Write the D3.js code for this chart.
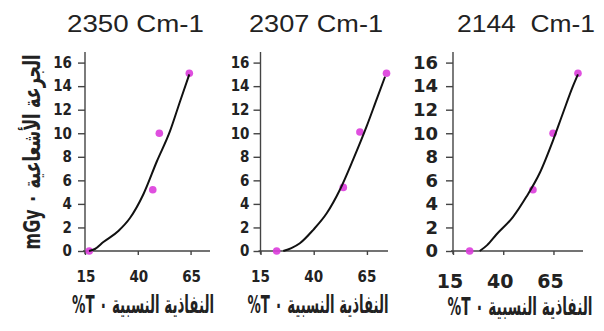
<!DOCTYPE html>
<html>
<head>
<meta charset="utf-8">
<script src="https://cdn.jsdelivr.net/npm/d3@7"></script>
<style>
  body { margin: 0; background: #fff; }
  svg { display: block; }
</style>
</head>
<body>
<div id="chart"></div>
<script>
// chart values
const panelTitles = ["2350 Cm-1", "2307 Cm-1", "2144  Cm-1"];
const xTickValues = [15, 40, 65];
const yTickValues = [0, 2, 4, 6, 8, 10, 12, 14, 16];
const xLabel = "النفاذية النسبية ٠ T%";
const yLabel = "الجرعة الأشعاعية ٠ mGy";

// measured points (magenta)
const pointsX = [
  [17.0, 47.1, 50.2, 64.4],
  [22.6, 53.9, 61.7, 74.2],
  [23.3, 54.8, 64.8, 77.2]
];
const pointsY = [
  [0, 5.2, 10.0, 15.1],
  [0, 5.4, 10.1, 15.1],
  [0, 5.2, 10.0, 15.1]
];

// fitted curve (black)
const curveX = [
  [16.9, 19.7, 23.7, 30.8, 36.3, 42.6, 49.0, 55.3, 60.0, 64.4],
  [25.7, 29.5, 33.5, 39.8, 46.1, 52.3, 58.6, 64.9, 69.6, 73.5],
  [28.3, 32.0, 36.6, 44.9, 51.5, 58.1, 64.8, 69.7, 74.7, 77.2]
];
const curveY = [
  [0, 0.17, 0.76, 1.7, 2.8, 4.8, 7.6, 10.2, 12.7, 15.0],
  [0, 0.25, 0.66, 1.8, 3.2, 5.2, 7.8, 10.6, 12.9, 14.8],
  [0, 0.5, 1.4, 2.9, 4.6, 6.6, 9.4, 11.7, 14.0, 15.0]
];

// layout of the three panels
const panels = [
  { left: 85, right: 210, xMax: 74.2, titleX: 135.5, titleLen: 137,
    tickFont: "DejaVu Sans Condensed", yTickSize: 15, xTickSize: 15, yPad: 6,
    xTickY: 282, xTickShift: 1,
    labelX: 143, labelY: 313, labelLen: 142, yAxisLabel: true },
  { left: 260.5, right: 388, xMax: 74.9, titleX: 316, titleLen: 134,
    tickFont: "DejaVu Sans Condensed", yTickSize: 15, xTickSize: 15, yPad: 4,
    xTickY: 282, xTickShift: 0,
    labelX: 318, labelY: 313, labelLen: 141, yAxisLabel: false },
  { left: 453, right: 583, xMax: 79.7, titleX: 526, titleLen: 138,
    tickFont: "DejaVu Sans", yTickSize: 18, xTickSize: 19, yPad: 8,
    xTickY: 288, xTickShift: -3,
    labelX: 520, labelY: 315, labelLen: 145, yAxisLabel: false }
];

const width = 604, height = 331;
const y0 = 251, yTop = 52;

const svg = d3.select("#chart").append("svg")
  .attr("width", width)
  .attr("height", height);

const y = d3.scaleLinear().domain([0, 16.9]).range([y0, yTop]);

panels.forEach((p, i) => {
  const x = d3.scaleLinear().domain([15, p.xMax]).range([p.left, p.right]);
  const g = svg.append("g");

  // title
  g.append("text")
    .attr("x", p.titleX)
    .attr("y", 32)
    .attr("text-anchor", "middle")
    .attr("textLength", p.titleLen)
    .attr("lengthAdjust", "spacingAndGlyphs")
    .style("white-space", "pre")
    .style("font-family", "Liberation Sans, Arial, sans-serif")
    .style("font-size", "23px")
    .style("fill", "#222")
    .text(panelTitles[i]);

  // y axis
  const yAxis = d3.axisLeft(y).tickValues(yTickValues).tickSize(7).tickPadding(p.yPad);
  g.append("g")
    .attr("transform", `translate(${p.left},0)`)
    .call(yAxis)
    .call(a => a.select(".domain").attr("d", `M0,${yTop}V${y0 + 3}`))
    .call(a => a.selectAll("line, path").style("stroke", "#444").style("stroke-width", 1.4))
    .call(a => a.selectAll("text")
      .style("font-family", p.tickFont)
      .style("font-weight", "bold")
      .style("font-size", p.yTickSize + "px")
      .style("fill", "#222"));

  // x axis
  const xAxis = d3.axisBottom(x).tickValues(xTickValues).tickSize(4).tickFormat("");
  g.append("g")
    .attr("transform", `translate(0,${y0})`)
    .call(xAxis)
    .call(a => a.select(".domain").attr("d", `M${p.left - 2},0H${p.right}`))
    .call(a => a.selectAll("line, path").style("stroke", "#444").style("stroke-width", 1.4));

  g.selectAll(".xtick")
    .data(xTickValues)
    .enter().append("text")
    .attr("class", "xtick")
    .attr("x", d => x(d) + p.xTickShift)
    .attr("y", p.xTickY)
    .attr("text-anchor", "middle")
    .style("font-family", p.tickFont)
    .style("font-weight", "bold")
    .style("font-size", p.xTickSize + "px")
    .style("fill", "#222")
    .text(d => d);

  // points
  g.selectAll(".pt")
    .data(pointsX[i].map((v, k) => [v, pointsY[i][k]]))
    .enter().append("circle")
    .attr("class", "pt")
    .attr("cx", d => x(d[0]))
    .attr("cy", d => y(d[1]))
    .attr("r", 3.8)
    .style("fill", "#dc3cdc")
    .style("opacity", 0.9);

  // fitted curve
  const line = d3.line()
    .x(d => x(d[0]))
    .y(d => y(d[1]))
    .curve(d3.curveMonotoneX);

  g.append("path")
    .datum(curveX[i].map((v, k) => [v, curveY[i][k]]))
    .attr("d", line)
    .style("fill", "none")
    .style("stroke", "#111")
    .style("stroke-width", 2);

  // x label (tall, narrow Arabic lettering); RLE..PDF keeps T% on the left
  g.append("text")
    .attr("transform", `translate(${p.labelX},${p.labelY}) scale(1,1.6)`)
    .attr("text-anchor", "middle")
    .attr("textLength", p.labelLen)
    .attr("lengthAdjust", "spacingAndGlyphs")
    .style("font-family", "DejaVu Sans Condensed, DejaVu Sans, sans-serif")
    .style("font-weight", "bold")
    .style("font-size", "15.5px")
    .style("fill", "#222")
    .text("\u202B" + xLabel + "\u202C");

  if (p.yAxisLabel) {
    g.append("text")
      .attr("transform", `translate(40,152) rotate(-90) scale(1,1.3)`)
      .attr("text-anchor", "middle")
      .attr("textLength", 195)
      .attr("lengthAdjust", "spacingAndGlyphs")
      .style("font-family", "DejaVu Sans Condensed, DejaVu Sans, sans-serif")
      .style("font-weight", "bold")
      .style("font-size", "18px")
      .style("fill", "#222")
      .text("\u202B" + yLabel + "\u202C");
  }
});
</script>
</body>
</html>
